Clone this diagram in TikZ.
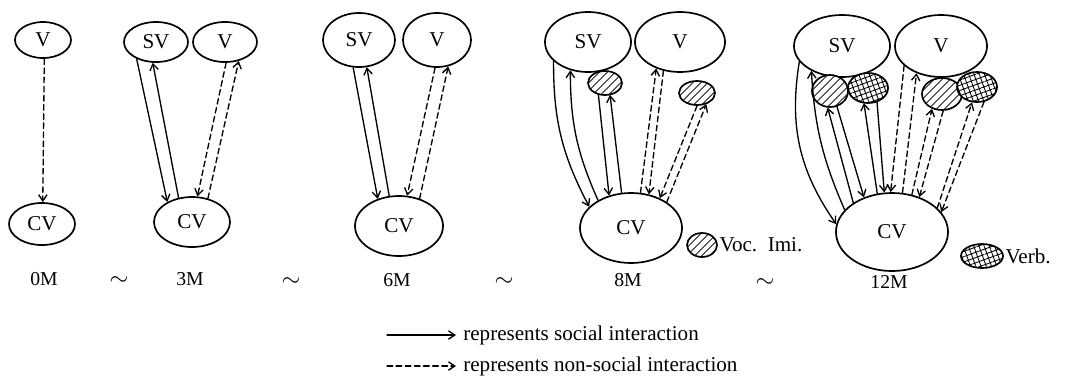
\documentclass[tikz,border=0pt]{standalone}
\usepackage{fontspec}
\setmainfont{Liberation Serif}
\usetikzlibrary{shapes.geometric,arrows.meta,patterns.meta,positioning}
\begin{document}
\begin{tikzpicture}[x=0.025cm,y=-0.025cm,>={Straight Barb[length=4.5pt,width=6pt]},line join=round,line cap=round,
	font=\fontsize{15}{18}\selectfont,
	ell/.style 2 args={draw,ellipse,line width=1.2pt,inner sep=0pt,minimum width=#1,minimum height=#2},
	imi/.style={preaction={fill=white},pattern={Lines[angle=45,distance=4pt,line width=.6pt]}},
	verb/.style={preaction={fill=white},pattern={Hatch[angle=20,distance=3.5pt,line width=.6pt]}},
	soc/.style={->,line width=.95pt},
	nsoc/.style={->,line width=.95pt,dash pattern=on 4pt off 2.5pt},
	age/.style={font=\fontsize{14}{16}\selectfont}]
	\useasboundingbox (0,0) rectangle (1070,377);
	\begin{scope}
		\node[ell={1.4cm}{.9cm}] (v0) at (43,40) {V};
		\node[ell={1.65cm}{1.05cm}] (cv0) at (42,224) {CV};
		\draw[nsoc] (v0.-86) -- (cv0.88);
		\path (44,279) node[age] (m0) {0M};
	\end{scope}
	\path (119,281) node[font=\fontsize{17}{18}\selectfont] (t1) {$\sim$};
	\begin{scope}[shift={(190,0)}]
		\node[ell={1.6cm}{1cm}] (sv3) at (-34,42) {SV};
		\node[ell={1.6cm}{1cm}] (v3) at (35,42) {V};
		\node[ell={1.9cm}{1.25cm}] (cv3) at (2,222) {CV};
		\draw[soc] (sv3.-139) -- (cv3.141);
		\draw[soc] (cv3.119) -- (sv3.-99);
		\draw[nsoc] (v3.-87) -- (cv3.78);
		\draw[nsoc] (cv3.56) -- (v3.-54);
		\path (0,279) node[age] (m3) {3M};
	\end{scope}
	\path (291,282) node[font=\fontsize{17}{18}\selectfont] (t2) {$\sim$};
	\begin{scope}[shift={(397,0)}]
		\node[ell={1.8cm}{1.35cm}] (sv6) at (-38,40) {SV};
		\node[ell={1.7cm}{1.35cm}] (v6) at (40,40) {V};
		\node[ell={2.2cm}{1.5cm}] (cv6) at (2,226) {CV};
		\draw[soc] (sv6.-102) -- (cv6.128);
		\draw[soc] (cv6.108) -- (sv6.-74);
		\draw[nsoc] (v6.-94) -- (cv6.75);
		\draw[nsoc] (cv6.53) -- (v6.-67);
		\path (0,280) node[age] (m6) {6M};
	\end{scope}
	\path (504,282) node[font=\fontsize{17}{18}\selectfont] (t3) {$\sim$};
	\begin{scope}[shift={(628,0)}]
		\node[ell={2.15cm}{1.5cm}] (sv8) at (-40,42) {SV};
		\node[ell={2.25cm}{1.5cm}] (v8) at (52,42) {V};
		\node[ell={.85cm}{.6cm},imi] (ha8a) at (-23,83) {};
		\node[ell={.9cm}{.6cm},imi] (ha8b) at (69,93) {};
		\node[ell={2.55cm}{1.75cm}] (cv8) at (3,228) {CV};
		\draw[soc] (sv8.-151) to[bend right=14] (cv8.153);
		\draw[soc] (cv8.140) to[bend left=12] (sv8.-122);
		\draw[soc] (ha8a.-120) -- (cv8.124);
		\draw[soc] (cv8.105) -- (ha8a.-67);
		\draw[nsoc] (cv8.75) -- (v8.-132);
		\draw[nsoc] (v8.-120) -- (cv8.62);
		\draw[nsoc] (ha8b.-90) -- (cv8.46);
		\draw[nsoc] (cv8.36) -- (ha8b.-50);
		\node[ell={.75cm}{.6cm},imi] (vil) at (74,245) {};
		\node[right=0pt of vil,inner sep=1pt] (vit) {Voc.\ \ Imi.};
		\path (0,280) node[age] (m8) {8M};
	\end{scope}
	\path (765,283) node[font=\fontsize{17}{18}\selectfont] (t4) {$\sim$};
	\begin{scope}[shift={(889,0)}]
		\node[ell={2.4cm}{1.55cm}] (sv12) at (-47,46) {SV};
		\node[ell={2.3cm}{1.55cm}] (v12) at (52,46) {V};
		\node[ell={.9cm}{.8cm},imi] (ha12a) at (-59,91) {};
		\node[ell={1cm}{.75cm},verb] (cr12a) at (-21,88) {};
		\node[ell={1cm}{.8cm},imi] (ha12b) at (53,94) {};
		\node[ell={1cm}{.75cm},verb] (cr12b) at (88,87) {};
		\node[ell={2.8cm}{1.95cm}] (cv12) at (3,232) {CV};
		\draw[soc] (sv12.-160) to[bend right=22] (cv12.172);
		\draw[soc] (cv12.155) to[bend left=10] (sv12.-141);
		\draw[soc] (ha12a.-66) -- (cv12.129);
		\draw[soc] (cv12.143) -- (ha12a.-98);
		\draw[soc] (cv12.111) -- (cr12a.-105);
		\draw[soc] (cr12a.-57) -- (cv12.101);
		\draw[nsoc] (v12.-152) -- (cv12.92);
		\draw[nsoc] (cv12.75) -- (v12.-132);
		\draw[nsoc] (cv12.62) -- (ha12b.-124);
		\draw[nsoc] (ha12b.-86) -- (cv12.52);
		\draw[nsoc] (cv12.28) -- (cr12b.-108);
		\draw[nsoc] (cr12b.-65) -- (cv12.22);
		\node[ell={1.05cm}{.6cm},verb] (vbl) at (93,256) {};
		\node[right=0pt of vbl,inner sep=1pt] (vbt) {Verb.};
		\path (0,282) node[age] (m12) {12M};
	\end{scope}
	\coordinate (sa) at (387,335);
	\node[anchor=west,inner xsep=5pt,inner ysep=0pt] (st) at (456,335) {represents social interaction};
	\draw[soc] (sa) -- (st.west);
	\coordinate (na) at (387,366);
	\node[anchor=west,inner xsep=5pt,inner ysep=0pt] (nt) at (456,366) {represents non-social interaction};
	\draw[nsoc] (na) -- (nt.west);
\end{tikzpicture}
\end{document}
